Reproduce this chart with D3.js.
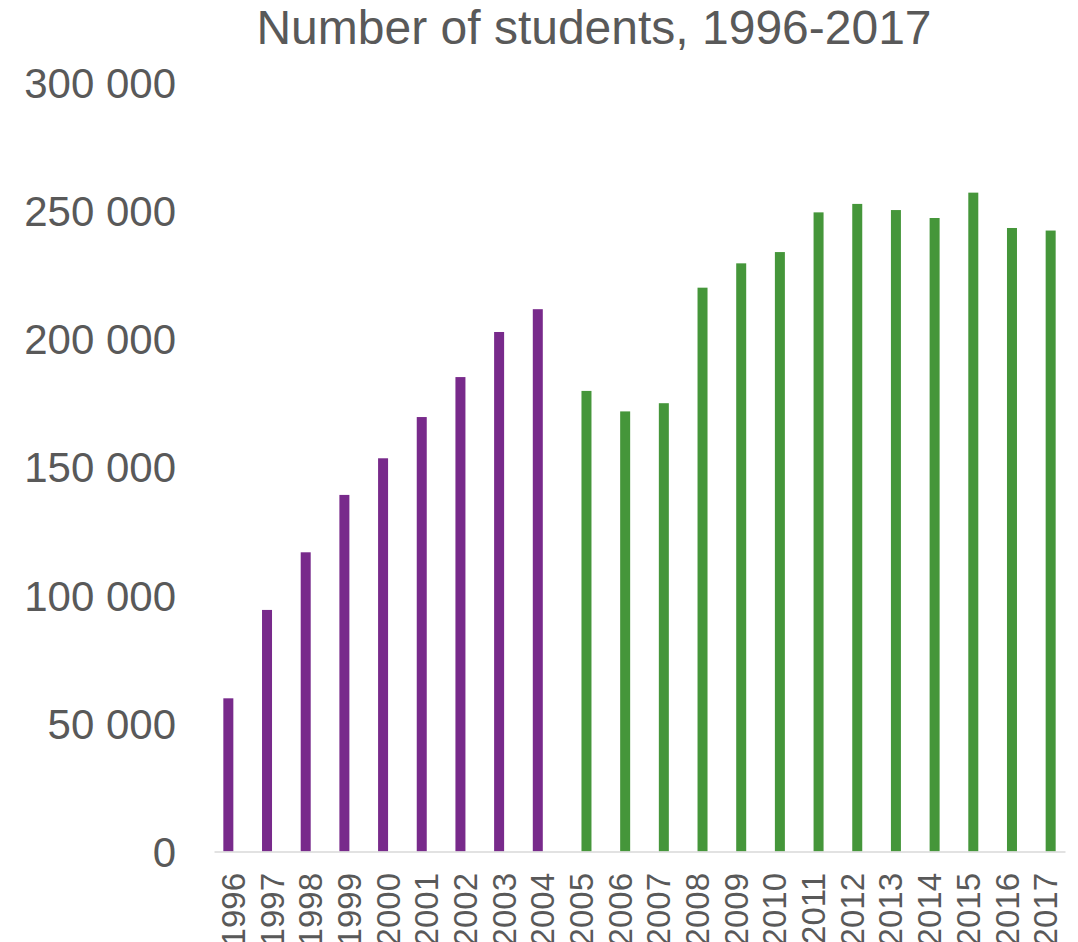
<!DOCTYPE html>
<html>
<head>
<meta charset="utf-8">
<script src="https://cdn.jsdelivr.net/npm/d3@7"></script>
<style>
  html, body { margin: 0; padding: 0; background: #ffffff; }
  svg { display: block; font-family: "Liberation Sans", Arial, sans-serif; }
</style>
</head>
<body>
<svg id="chart" width="1078" height="942"></svg>
<script>
// Years on the category axis
const years = ["1996","1997","1998","1999","2000","2001","2002","2003","2004","2005","2006",
               "2007","2008","2009","2010","2011","2012","2013","2014","2015","2016","2017"];

// Student counts: first series (1996-2004), second series (2005-2017)
const seriesEarly = [59800, 94300, 116800, 139200, 153500, 169600, 185200, 202800, 211700,
                     null, null, null, null, null, null, null, null, null, null, null, null, null];
const seriesLate  = [null, null, null, null, null, null, null, null, null,
                     179800, 171800, 175000, 220100, 229600, 234000, 249500, 252800, 250400,
                     247300, 257200, 243400, 242400];

const yTicks = [0, 50000, 100000, 150000, 200000, 250000, 300000];
const title = "Number of students, 1996-2017";

const seriesKeys = ["early", "late"];
const seriesColors = { early: "#782a8b", late: "#45963a" };

const svg = d3.select("#chart");
const textColor = "#595959";

const x = d3.scaleBand()
  .domain(years)
  .range([214, 1065])
  .paddingInner(0.483)
  .paddingOuter(0.2415);

const xSub = d3.scaleBand()
  .domain(seriesKeys)
  .range([0, x.bandwidth()]);

const y = d3.scaleLinear()
  .domain([0, 300000])
  .range([851.5, 83]);

// Title
svg.append("text")
  .attr("x", 594)
  .attr("y", 43.5)
  .attr("text-anchor", "middle")
  .attr("font-size", 48)
  .attr("fill", textColor)
  .text(title);

// Y axis (labels only)
const fmt = v => d3.format(",")(v).replace(/,/g, " ");
const yAxis = svg.append("g")
  .attr("transform", "translate(176,0)")
  .call(d3.axisLeft(y).tickValues(yTicks).tickFormat(fmt).tickSize(0).tickPadding(0));
yAxis.select(".domain").remove();
yAxis.selectAll("text")
  .attr("font-size", 42)
  .attr("font-family", "'Liberation Sans', Arial, sans-serif")
  .attr("fill", textColor)
  .attr("dy", "0.35em");

// Bars
const rows = years.map((yr, i) => ({ year: yr, early: seriesEarly[i], late: seriesLate[i] }));
const groups = svg.append("g")
  .selectAll("g")
  .data(rows)
  .join("g")
  .attr("transform", d => `translate(${x(d.year)},0)`);

groups.selectAll("rect")
  .data(d => seriesKeys.filter(k => d[k] != null).map(k => ({ key: k, value: d[k] })))
  .join("rect")
  .attr("x", d => xSub(d.key))
  .attr("width", xSub.bandwidth())
  .attr("y", d => y(d.value))
  .attr("height", d => y(0) - y(d.value))
  .attr("fill", d => seriesColors[d.key]);

// X axis with rotated year labels
const xAxis = svg.append("g")
  .attr("transform", `translate(0,${y(0)})`)
  .call(d3.axisBottom(x).tickSize(0).tickPadding(0).tickSizeOuter(0));
xAxis.select(".domain")
  .attr("stroke", "#d9d9d9")
  .attr("stroke-width", 1.5);
xAxis.selectAll("text")
  .attr("font-size", 33)
  .attr("font-family", "'Liberation Sans', Arial, sans-serif")
  .attr("fill", textColor)
  .attr("text-anchor", "end")
  .attr("transform", "rotate(-90)")
  .attr("x", -21.5)
  .attr("y", 0)
  .attr("dy", "0.35em");
</script>
</body>
</html>
